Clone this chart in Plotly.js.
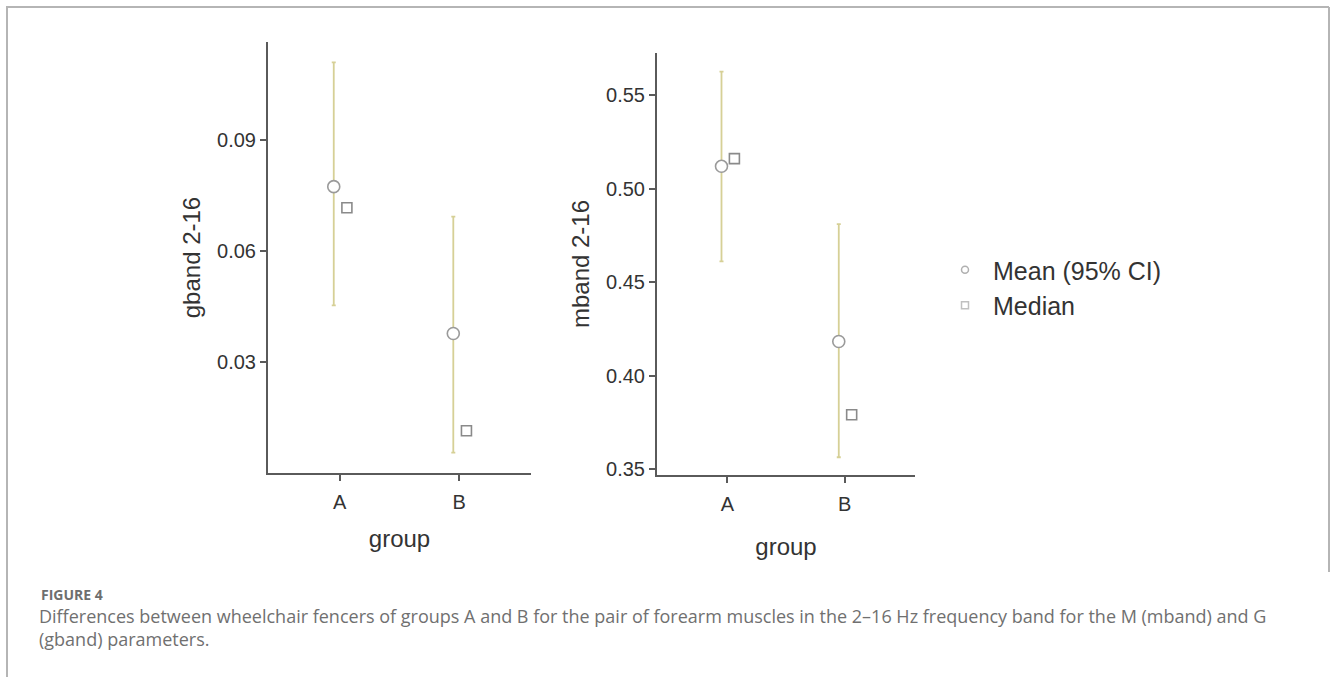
<!DOCTYPE html>
<html>
<head>
<meta charset="utf-8">
<script src="https://cdn.plot.ly/plotly-3.0.1.min.js"></script>
<style>
  html, body { margin: 0; padding: 0; background: #ffffff; }
  #chart { width: 1330px; height: 677px; }
</style>
</head>
<body>
<div id="chart"></div>
<script>
// ---- data ----
const groups = ['A', 'B'];

const gbandMean   = [0.0774, 0.0377];
const gbandLower  = [0.0453, 0.0055];
const gbandUpper  = [0.1110, 0.0693];
const gbandMedian = [0.0717, 0.0114];

const mbandMean   = [0.5119, 0.4182];
const mbandLower  = [0.4611, 0.3563];
const mbandUpper  = [0.5625, 0.4810];
const mbandMedian = [0.5160, 0.3790];

const gbandTicks = [0.03, 0.06, 0.09];
const gbandTickText = ['0.03', '0.06', '0.09'];
const mbandTicks = [0.35, 0.40, 0.45, 0.50, 0.55];
const mbandTickText = ['0.35', '0.40', '0.45', '0.50', '0.55'];

const legendNames = ['Mean (95% CI)', 'Median'];

const captionLabel = 'FIGURE 4';
const captionLine1 = 'Differences between wheelchair fencers of groups A and B for the pair of forearm muscles in the 2\u201316 Hz frequency band for the M (mband) and G';
const captionLine2 = '(gband) parameters.';

// ---- styling ----
const FONT = 'Liberation Sans, Arial, sans-serif';
const idx = groups.map((g, i) => i);
const meanDodge = -0.05, medianDodge = 0.06;
const errColor = '#d6d096';
const axisColor = '#5a5a5a';

function meanTrace(mean, lower, upper, xa, ya) {
  return {
    type: 'scatter', mode: 'markers', name: legendNames[0],
    x: idx.map(i => i + meanDodge), y: mean, xaxis: xa, yaxis: ya,
    showlegend: false,
    error_y: {
      type: 'data', symmetric: false,
      array: upper.map((u, i) => u - mean[i]),
      arrayminus: lower.map((l, i) => mean[i] - l),
      color: errColor, thickness: 1.8, width: 2
    },
    marker: { symbol: 'circle', size: 12, color: '#ffffff', line: { color: '#9a9a9a', width: 1.6 } },
    hoverinfo: 'y'
  };
}
function medianTrace(med, xa, ya) {
  return {
    type: 'scatter', mode: 'markers', name: legendNames[1],
    x: idx.map(i => i + medianDodge), y: med, xaxis: xa, yaxis: ya,
    showlegend: false,
    marker: { symbol: 'square', size: 10, color: '#ffffff', line: { color: '#8a8a8a', width: 1.6 } },
    hoverinfo: 'y'
  };
}
// legend-only entries (small light symbols as in the reference legend)
const legendMean = {
  type: 'scatter', mode: 'markers', name: legendNames[0], x: [null], y: [null],
  marker: { symbol: 'circle', size: 7, color: '#ffffff', line: { color: '#b0b0b0', width: 1.5 } },
  showlegend: true, hoverinfo: 'skip'
};
const legendMedian = {
  type: 'scatter', mode: 'markers', name: legendNames[1], x: [null], y: [null],
  marker: { symbol: 'square', size: 7, color: '#ffffff', line: { color: '#c0c0c0', width: 1.5 } },
  showlegend: true, hoverinfo: 'skip'
};

const data = [
  meanTrace(gbandMean, gbandLower, gbandUpper, 'x', 'y'),
  medianTrace(gbandMedian, 'x', 'y'),
  meanTrace(mbandMean, mbandLower, mbandUpper, 'x2', 'y2'),
  medianTrace(mbandMedian, 'x2', 'y2'),
  legendMean, legendMedian
];

const W = 1330, H = 677;
const px = v => v / W;
const py = v => 1 - v / H;

function xAxis(d0, d1, anchor, standoff) {
  return {
    domain: [px(d0), px(d1)], anchor: anchor,
    range: [-0.6, 1.6], tickmode: 'array', tickvals: idx, ticktext: groups,
    showline: true, linecolor: axisColor, linewidth: 2,
    ticks: 'outside', ticklen: 6, tickwidth: 2, tickcolor: axisColor,
    ticklabelstandoff: 4,
    showgrid: false, zeroline: false,
    tickfont: { family: FONT, size: 20, color: '#333333' },
    title: { text: 'group', font: { family: FONT, size: 24, color: '#333333' }, standoff: standoff },
    fixedrange: true
  };
}
function yAxis(d0, d1, anchor, range, tv, tt, title) {
  return {
    domain: [py(d1), py(d0)], anchor: anchor, range: range,
    tickmode: 'array', tickvals: tv, ticktext: tt,
    showline: true, linecolor: axisColor, linewidth: 2,
    ticks: 'outside', ticklen: 6, tickwidth: 2, tickcolor: axisColor,
    showgrid: false, zeroline: false,
    tickfont: { family: FONT, size: 20, color: '#333333' },
    title: { text: title, font: { family: FONT, size: 24, color: '#333333' }, standoff: 10 },
    fixedrange: true
  };
}

const layout = {
  width: W, height: H,
  margin: { l: 0, r: 0, t: 0, b: 0 },
  paper_bgcolor: '#ffffff', plot_bgcolor: '#ffffff',
  showlegend: true,
  xaxis: xAxis(268, 531, 'y', 18),
  yaxis: yAxis(42, 473, 'x', [0.0, 0.1165], gbandTicks, gbandTickText, 'gband 2-16'),
  xaxis2: xAxis(657, 915, 'y2', 24),
  yaxis2: yAxis(53, 475, 'x2', [0.3468, 0.5725], mbandTicks, mbandTickText, 'mband 2-16'),
  legend: {
    x: px(937), y: py(247), xanchor: 'left', yanchor: 'top',
    font: { family: FONT, size: 25, color: '#333333' },
    bgcolor: 'rgba(0,0,0,0)', borderwidth: 0,
    itemsizing: 'trace', itemwidth: 46, tracegroupgap: 0
  },
  shapes: [
    { type: 'line', xref: 'paper', yref: 'paper', x0: px(6), x1: px(1329), y0: py(7), y1: py(7), line: { color: '#b5b5b5', width: 2 } },
    { type: 'line', xref: 'paper', yref: 'paper', x0: px(7), x1: px(7), y0: py(7), y1: 0, line: { color: '#b5b5b5', width: 2 } },
    { type: 'line', xref: 'paper', yref: 'paper', x0: px(1329), x1: px(1329), y0: py(7), y1: py(572), line: { color: '#b5b5b5', width: 2 } }
  ],
  annotations: [
    { xref: 'paper', yref: 'paper', x: px(39), y: py(594), xanchor: 'left', yanchor: 'middle', showarrow: false,
      text: '<b>' + captionLabel + '</b>', font: { family: 'Open Sans, sans-serif', size: 14, color: '#6e6e6e' } },
    { xref: 'paper', yref: 'paper', x: px(37), y: py(616), xanchor: 'left', yanchor: 'middle', showarrow: false,
      text: captionLine1, font: { family: 'Open Sans, sans-serif', size: 18, color: '#707070' } },
    { xref: 'paper', yref: 'paper', x: px(37), y: py(639), xanchor: 'left', yanchor: 'middle', showarrow: false,
      text: captionLine2, font: { family: 'Open Sans, sans-serif', size: 18, color: '#707070' } }
  ]
};

Plotly.newPlot('chart', data, layout, { displayModeBar: false, staticPlot: true });
</script>
</body>
</html>
